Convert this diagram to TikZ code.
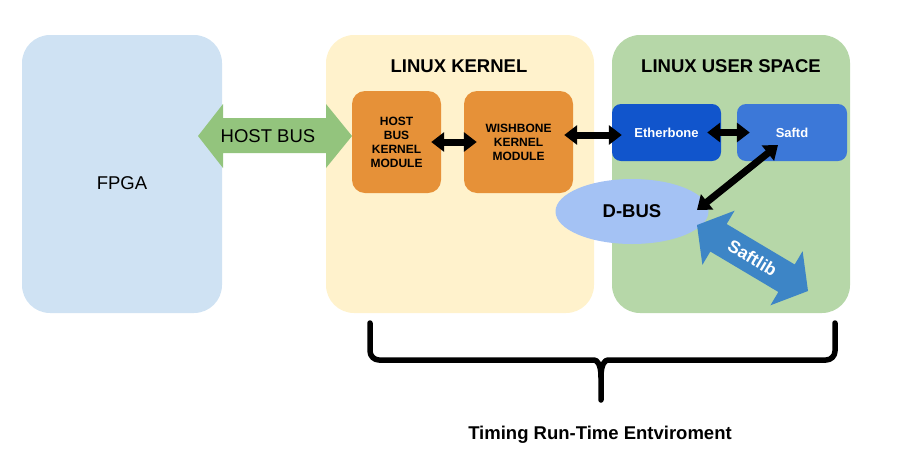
\documentclass[tikz,border=0pt]{standalone}
\usepackage{fontspec}
\setmainfont{Liberation Sans}
\usetikzlibrary{arrows.meta,calc,shapes.geometric}
\definecolor{fpgac}{HTML}{CFE2F3}
\definecolor{kernc}{HTML}{FFF2CC}
\definecolor{userc}{HTML}{B6D7A8}
\definecolor{hostc}{HTML}{93C47D}
\definecolor{modc}{HTML}{E69138}
\definecolor{ethc}{HTML}{1155CC}
\definecolor{saftc}{HTML}{3C78D8}
\definecolor{dbusc}{HTML}{A4C2F4}
\definecolor{liberc}{HTML}{3D85C6}
\tikzset{
  container/.style={rectangle,rounded corners=28pt,inner sep=0pt,minimum height=278pt},
  modbox/.style={rectangle,rounded corners=13pt,fill=modc,inner sep=0pt,minimum height=102pt,align=center,font=\fontsize{12}{14}\selectfont\bfseries},
  bluebox/.style={rectangle,rounded corners=9pt,inner sep=0pt,minimum height=57pt,text=white,font=\fontsize{13}{15}\selectfont\bfseries},
  blk/.style={line width=7pt,{Triangle[length=13pt,width=19pt]}-{Triangle[length=13pt,width=19pt]}},
  title/.style={font=\fontsize{18.5}{20}\selectfont\bfseries},
  brace/.style={line width=5.5pt,line cap=round,line join=round}
}
\begin{document}
\begin{tikzpicture}[x=1pt,y=-1pt]
\useasboundingbox (0,0) rectangle (920,472);
% containers
\node[container,fill=fpgac,minimum width=200pt] (fpga) at (122,174) {};
\node[font=\fontsize{18.5}{20}\selectfont] (fpgat) at (122,183) {FPGA};
\node[container,fill=kernc,minimum width=268pt] (kern) at (460,174) {};
\node[container,fill=userc,minimum width=238pt] (user) at (731,174) {};
\node[title] (kernt) at (459,66) {LINUX KERNEL};
\node[title] (usert) at (731,66) {LINUX USER SPACE};
% host bus arrow
\coordinate (hbL) at (198,136);
\coordinate (hbR) at (352,136);
\fill[hostc] (hbL) -- ($(hbL)+(25,-32)$) -- ($(hbL)+(25,-18)$) -- ($(hbR)+(-26,-18)$) -- ($(hbR)+(-26,-32)$)
  -- (hbR) -- ($(hbR)+(-26,32)$) -- ($(hbR)+(-26,17)$) -- ($(hbL)+(25,17)$) -- ($(hbL)+(25,32)$) -- cycle;
\node[font=\fontsize{18.5}{20}\selectfont] (hbt) at (268,136) {HOST BUS};
% modules
\node[modbox,minimum width=89pt] (hbkm) at (396.5,142) {HOST\\BUS\\KERNEL\\MODULE};
\node[modbox,minimum width=109pt] (wbkm) at (518.5,142) {WISHBONE\\KERNEL\\MODULE};
\node[bluebox,fill=ethc,minimum width=109pt] (eth) at (666.5,132.5) {Etherbone};
\node[bluebox,fill=saftc,minimum width=110pt] (saftd) at (792,132.5) {Saftd};
\node[ellipse,fill=dbusc,inner sep=0pt,minimum width=153pt,minimum height=65pt,font=\fontsize{18.5}{20}\selectfont\bfseries] (dbus) at (632,211.5) {D-BUS};
% black arrows
\draw[blk] ([xshift=-10pt]hbkm.east) -- ([xshift=13pt]wbkm.west);
\draw[blk] ([xshift=-9pt,yshift=7pt]wbkm.east) -- ([xshift=10pt,yshift=-2.5pt]eth.west);
\draw[blk] ([xshift=-14pt]eth.east) -- ([xshift=13pt]saftd.west);
\draw[blk] ($(saftd.center)+(-14,12.5)$) -- ($(dbus.center)+(65,-1.5)$);
% saftlib arrow
\coordinate (sA) at ($(dbus.center)+(65,13.5)$);
\coordinate (sB) at (808,291);
\coordinate (sA1) at ($(sA)!25pt!(sB)$);
\coordinate (sB1) at ($(sB)!25pt!(sA)$);
\fill[liberc] (sA) -- ($(sA1)!31.5pt!90:(sB)$) -- ($(sA1)!16pt!90:(sB)$) -- ($(sB1)!16pt!-90:(sA)$) -- ($(sB1)!31.5pt!-90:(sA)$)
  -- (sB) -- ($(sB1)!31.5pt!90:(sA)$) -- ($(sB1)!16pt!90:(sA)$) -- ($(sA1)!16pt!-90:(sB)$) -- ($(sA1)!31.5pt!-90:(sB)$) -- cycle;
\path (sA) -- (sB) node[midway,sloped,text=white,font=\fontsize{17.5}{19}\selectfont\bfseries] (saftlib) {Saftlib};
% brace
\coordinate (brL) at (370,323);
\coordinate (brR) at (835,323);
\coordinate (brM) at (601,400);
\draw[brace] (brL) [rounded corners=9pt] -- (370,360) -- (585,360) [sharp corners] .. controls (597,360) and (601,364) .. (601,377) -- (brM);
\draw[brace] (brR) [rounded corners=9pt] -- (835,360) -- (617,360) [sharp corners] .. controls (605,360) and (601,364) .. (601,377);
\node[font=\fontsize{18.5}{20}\selectfont\bfseries] (tre) at (600,435) {Timing Run-Time Entviroment};
\end{tikzpicture}
\end{document}
